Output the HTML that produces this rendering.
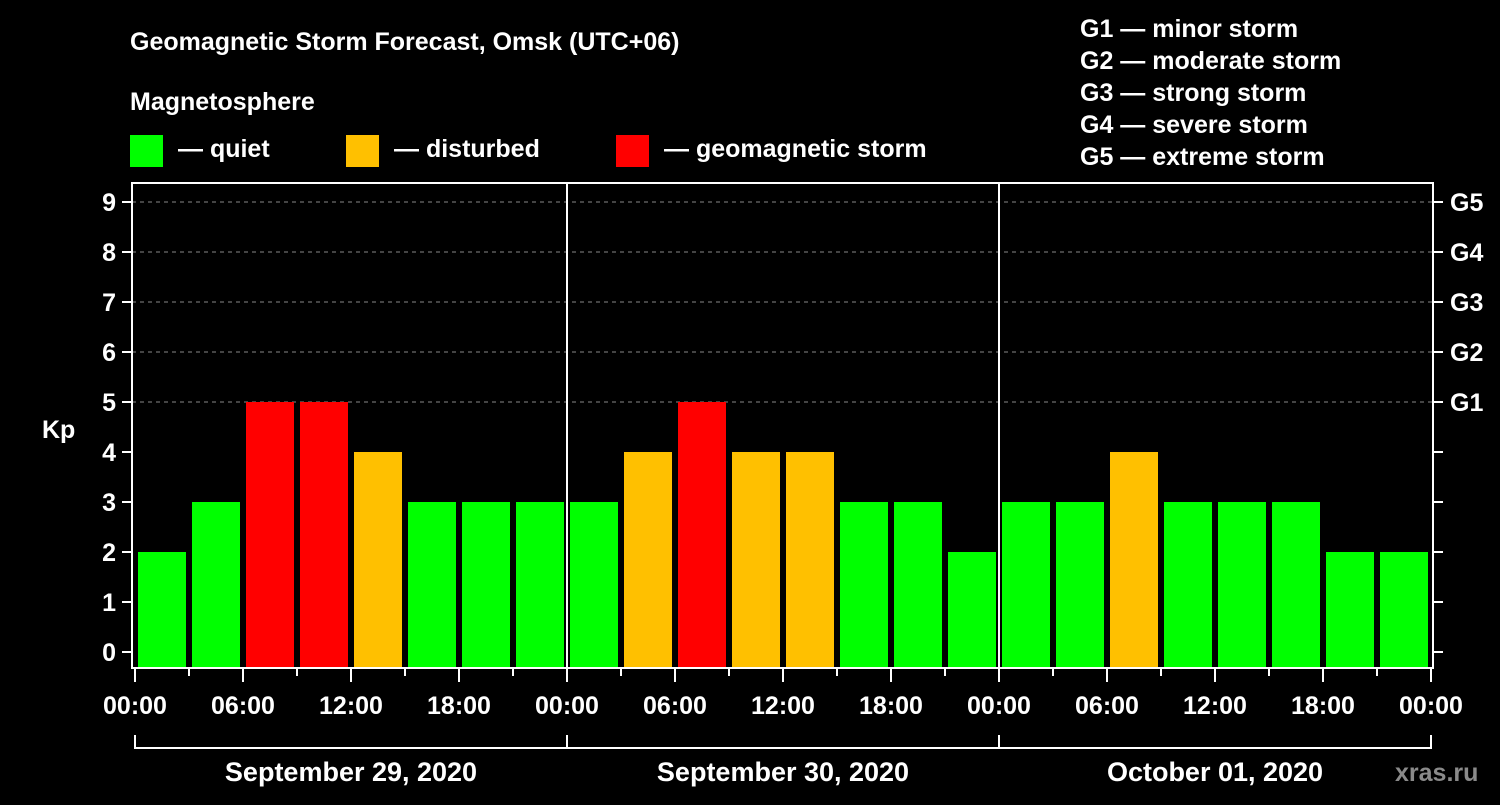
<!DOCTYPE html>
<html><head><meta charset="utf-8"><style>
body{margin:0;background:#000;width:1500px;height:800px;overflow:hidden}
svg text{font-family:"Liberation Sans",sans-serif;font-weight:bold;fill:#fff}
</style></head><body>
<svg id="c" width="1500" height="800" viewBox="0 0 1500 800">
<text x="130" y="50" font-size="25">Geomagnetic Storm Forecast, Omsk (UTC+06)</text>
<text x="130" y="110" font-size="25">Magnetosphere</text>
<rect x="130" y="135" width="33" height="32" fill="#00ff00"/>
<text x="178" y="157" font-size="25">— quiet</text>
<rect x="346" y="135" width="33" height="32" fill="#ffc000"/>
<text x="394" y="157" font-size="25">— disturbed</text>
<rect x="616" y="135" width="33" height="32" fill="#ff0000"/>
<text x="664" y="157" font-size="25">— geomagnetic storm</text>
<g font-size="25">
<text x="1080" y="37">G1 — minor storm</text>
<text x="1080" y="69">G2 — moderate storm</text>
<text x="1080" y="101">G3 — strong storm</text>
<text x="1080" y="133">G4 — severe storm</text>
<text x="1080" y="165">G5 — extreme storm</text>
</g>
<text x="42" y="438" font-size="25">Kp</text>
<text x="1395" y="781" font-size="25" fill="#888" style="fill:#8a8a8a">xras.ru</text>
<g id="grid"></g><g id="bars"></g><g id="axes"></g>
</svg>
<script>
const kpValues=[2,3,5,5,4,3,3,3, 3,4,5,4,4,3,3,2, 3,3,4,3,3,3,2,2];
const yTicks=[0,1,2,3,4,5,6,7,8,9];
const gLabels=["G1","G2","G3","G4","G5"];
const dayLabels=["September 29, 2020","September 30, 2020","October 01, 2020"];
const hourLabels=["00:00","06:00","12:00","18:00"];
const NS="http://www.w3.org/2000/svg";
const X0=135,HPX=18,Y0=652,UPX=50,TOP=183,BOT=668,RIGHT=1433;
const x=h=>X0+h*HPX, y=v=>Y0-v*UPX;
function mk(p,tag,at){const e=document.createElementNS(NS,tag);for(const k in at)e.setAttribute(k,at[k]);p.appendChild(e);return e;}
const grid=document.getElementById('grid'),bars=document.getElementById('bars'),axes=document.getElementById('axes');
function col(v){return v>=5?'#ff0000':v>=4?'#ffc000':'#00ff00';}
yTicks.forEach(v=>{ if(v>=5){const l=mk(grid,'line',{x1:132,x2:RIGHT,y1:y(v),y2:y(v),stroke:'#888','stroke-dasharray':'4,4'});
}});
kpValues.forEach((v,i)=>{const r=mk(bars,'rect',{x:x(i*3)+3,y:y(v),width:HPX*3-6,height:BOT-y(v),fill:col(v)});
});
[1,2].forEach(d=>{const l=mk(axes,'line',{x1:x(d*24),x2:x(d*24),y1:TOP,y2:BOT,stroke:'#fff','stroke-width':2});
});
const fr=mk(axes,'rect',{x:132,y:TOP,width:RIGHT-132,height:BOT-TOP,fill:'none',stroke:'#fff','stroke-width':2});

yTicks.forEach(v=>{mk(axes,'line',{x1:122,x2:132,y1:y(v),y2:y(v),stroke:'#fff','stroke-width':2});
mk(axes,'line',{x1:RIGHT,x2:RIGHT+10,y1:y(v),y2:y(v),stroke:'#fff','stroke-width':2});
const t=mk(axes,'text',{x:116,y:y(v)+9,'font-size':25,'text-anchor':'end'});t.textContent=v;
});
gLabels.forEach((g,i)=>{const t=mk(axes,'text',{x:1450,y:y(5+i)+9,'font-size':25});t.textContent=g;
});
for(let h=0;h<=72;h+=3){const major=h%6==0;mk(axes,'line',{x1:x(h),x2:x(h),y1:BOT,y2:BOT+(major?14:8),stroke:'#fff','stroke-width':2});
if(major){const t=mk(axes,'text',{x:x(h),y:714,'font-size':25,'text-anchor':'middle'});t.textContent=hourLabels[(h%24)/6];
}}
dayLabels.forEach((d,i)=>{mk(axes,'path',{d:`M${x(i*24)},735V748H${x(i*24+24)}`+(i==2?'V735':''),stroke:'#fff','stroke-width':2,fill:'none'});
const t=mk(axes,'text',{x:x(i*24+12),y:781,'font-size':27,'text-anchor':'middle'});t.textContent=d;
});
</script>
</body></html>
